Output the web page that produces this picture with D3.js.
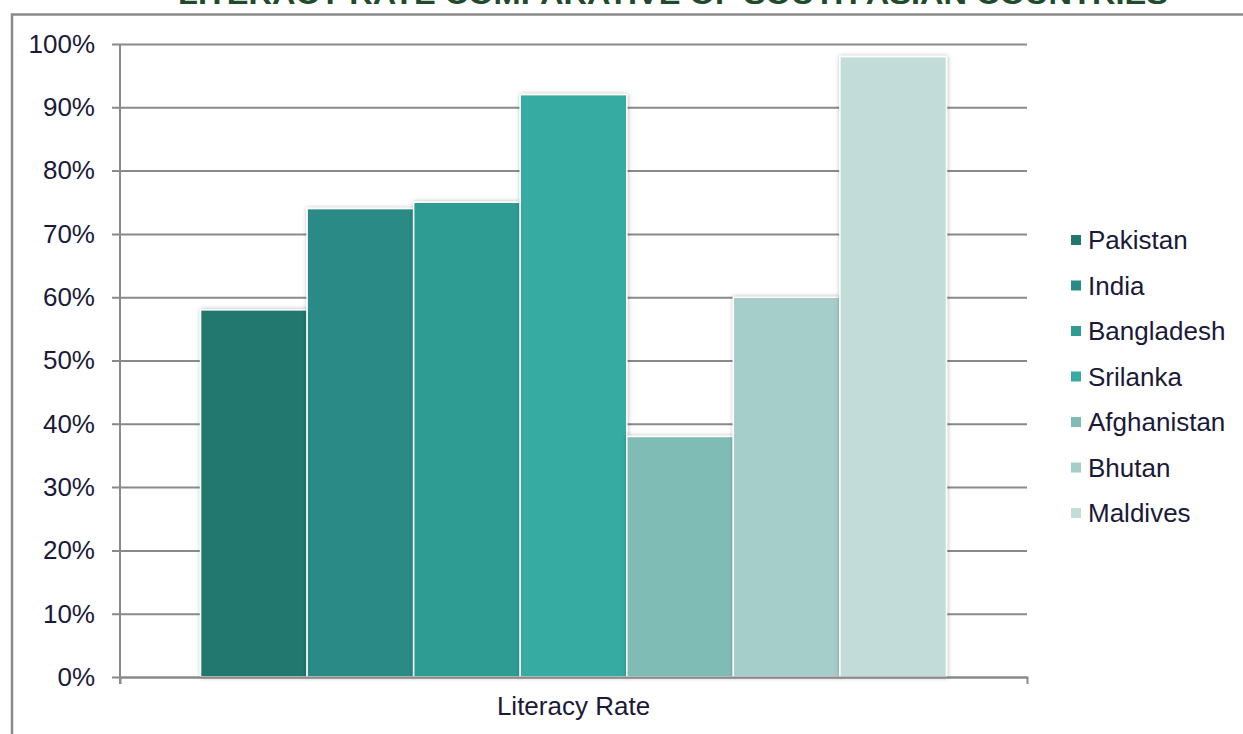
<!DOCTYPE html>
<html>
<head>
<meta charset="utf-8">
<script src="https://cdn.jsdelivr.net/npm/d3@7"></script>
<style>
    body { margin: 0; background: #fff; }
    svg { display: block; font-family: "Liberation Sans", Arial, sans-serif; }
</style>
</head>
<body>
<svg id="chart" width="1243" height="734"></svg>
<script>
// данные графика
const titleText = "LITERACY RATE COMPARATIVE OF SOUTH ASIAN COUNTRIES"
const category = ["Literacy Rate"]
const countries = ["Pakistan", "India", "Bangladesh", "Srilanka", "Afghanistan", "Bhutan", "Maldives"]
const rates = [58, 74, 75, 92, 38, 60, 98]
const colors = ["#21776e", "#298b86", "#2f9c93", "#36aba2", "#80bcb6", "#a5cdc9", "#c2ddd9"]
const yTicks = [0, 10, 20, 30, 40, 50, 60, 70, 80, 90, 100]

let svg = d3.select("#chart")

const area = { left: 120, right: 1027, top: 44, bottom: 677 }
const gridColor = "#8a8a8a"
const textColor = "#1a1a38"

// тень для столбцов
svg.append("defs").append("filter")
    .attr("id", "shadow")
    .attr("x", "-10%").attr("y", "-10%")
    .attr("width", "120%").attr("height", "120%")
    .append("feDropShadow")
    .attr("dx", 0.5).attr("dy", 0)
    .attr("stdDeviation", 2)
    .attr("flood-color", "#000")
    .attr("flood-opacity", 0.3)

// рамка (обрезана краями картинки)
svg.append("path")
    .attr("d", "M12,740 L12,14.5 L1250,14.5")
    .style("fill", "none")
    .style("stroke", gridColor)
    .style("stroke-width", 2.5)

// заголовок - виден только низ, как в оригинале
svg.append("text")
    .attr("x", 673)
    .attr("y", 3.5)
    .attr("text-anchor", "middle")
    .attr("textLength", 990)
    .attr("lengthAdjust", "spacingAndGlyphs")
    .style("font-size", "30px")
    .style("font-weight", "bold")
    .style("fill", "#1f4a2c")
    .text(titleText)

// шкалы
let scaleX = d3.scaleBand()
    .domain(category)
    .range([area.left, area.right])
    .paddingInner(0)
    .paddingOuter(0.108)

let scaleY = d3.scaleLinear()
    .domain([0, 100])
    .range([area.bottom, area.top])

let scaleInner = d3.scaleBand()
    .domain(countries)
    .range([0, scaleX.bandwidth()])

// сетка + подписи оси Y
let gridAxis = d3.axisLeft(scaleY)
    .tickValues(yTicks)
    .tickFormat(d => d + "%")
    .tickSize(-(area.right - area.left + 8))
    .tickPadding(17)

let gY = svg.append("g")
    .attr("transform", `translate(${area.left - 8}, 0)`)
    .call(gridAxis)
gY.select(".domain").remove()
gY.selectAll("line")
    .style("stroke", gridColor)
    .style("stroke-width", 2)
gY.selectAll("text")
    .style("font-size", "26px")
    .style("fill", textColor)
    .attr("font-family", null)

// вертикальная ось
svg.append("line")
    .attr("x1", area.left).attr("x2", area.left)
    .attr("y1", area.top).attr("y2", area.bottom + 7)
    .style("stroke", gridColor)
    .style("stroke-width", 2)

// столбцы
let bars = svg.append("g")
    .attr("transform", `translate(${scaleX(category[0])}, 0)`)

bars.selectAll("rect")
    .data(countries)
    .enter()
    .append("rect")
    .attr("x", d => scaleInner(d))
    .attr("y", (d, i) => scaleY(rates[i]))
    .attr("width", scaleInner.bandwidth())
    .attr("height", (d, i) => scaleY(0) - scaleY(rates[i]))
    .style("fill", (d, i) => colors[i])
    .style("stroke", "#fff")
    .style("stroke-width", 1.5)
    .attr("filter", "url(#shadow)")

// горизонтальная ось
let axisX = d3.axisBottom(scaleX)
    .tickSizeInner(0)
    .tickSizeOuter(7)
    .tickPadding(20)

let gX = svg.append("g")
    .attr("transform", `translate(0, ${area.bottom})`)
    .call(axisX)
gX.select(".domain")
    .style("stroke", gridColor)
    .style("stroke-width", 2)
gX.selectAll("text")
    .style("font-size", "26px")
    .style("fill", textColor)
    .attr("font-family", null)

// легенда
let legend = svg.append("g")
    .attr("transform", "translate(1071, 240)")

let items = legend.selectAll("g")
    .data(countries)
    .enter()
    .append("g")
    .attr("transform", (d, i) => `translate(0, ${i * 45.5})`)

items.append("rect")
    .attr("x", 0)
    .attr("y", -5)
    .attr("width", 10)
    .attr("height", 10)
    .style("fill", (d, i) => colors[i])

items.append("text")
    .attr("x", 17)
    .attr("dy", "0.35em")
    .style("font-size", "26px")
    .style("fill", textColor)
    .text(d => d)
</script>
</body>
</html>
